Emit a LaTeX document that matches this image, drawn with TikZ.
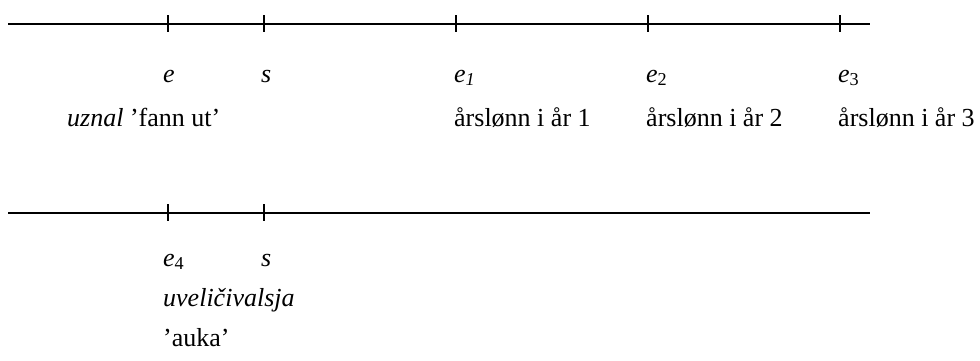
\documentclass[tikz,border=0pt]{standalone}
\usepackage{fontspec}
\setmainfont{Liberation Serif}
\begin{document}
\begin{tikzpicture}[x=1pt,y=-1pt,
  axis/.style={line width=1.6pt},
  tick/.style={line width=1.6pt},
  lbl/.style={anchor=base west,inner sep=0pt,font=\fontsize{26}{30}\selectfont}]
\useasboundingbox (0,0) rectangle (980,360);
% top time line
\coordinate (tl) at (8,24);
\coordinate (tr) at (870,24);
\draw[axis] (tl) -- (tr);
\foreach \n/\x in {te/168,ts/264,te1/456,te2/648,te3/840}{
  \coordinate (\n) at (\x,24);
  \draw[tick] (\x,15) -- (\x,32);
}
\node[lbl] (le) at (163,82) {\textit{e}};
\node[lbl] (ls) at (261,82) {\textit{s}};
\node[lbl] (le1) at (454,82) {\textit{e\textsubscript{1}}};
\node[lbl] (le2) at (646,82) {\textit{e}\textsubscript{2}};
\node[lbl] (le3) at (838,82) {\textit{e}\textsubscript{3}};
\node[lbl] (lu) at (67,126) {\textit{uznal} 'fann ut’};
\node[lbl] (l1) at (454,126) {årslønn i år 1};
\node[lbl] (l2) at (646,126) {årslønn i år 2};
\node[lbl] (l3) at (838,126) {årslønn i år 3};
% bottom time line
\coordinate (bl) at (8,213);
\coordinate (br) at (870,213);
\draw[axis] (bl) -- (br);
\foreach \n/\x in {be4/168,bs/264}{
  \coordinate (\n) at (\x,213);
  \draw[tick] (\x,204) -- (\x,221);
}
\node[lbl] (le4) at (163,266) {\textit{e}\textsubscript{4}};
\node[lbl] (ls2) at (261,266) {\textit{s}};
\node[lbl] (luv) at (163,306) {\textit{uveličivalsja}};
\node[lbl] (la) at (163,346) {'auka’};
\end{tikzpicture}
\end{document}
